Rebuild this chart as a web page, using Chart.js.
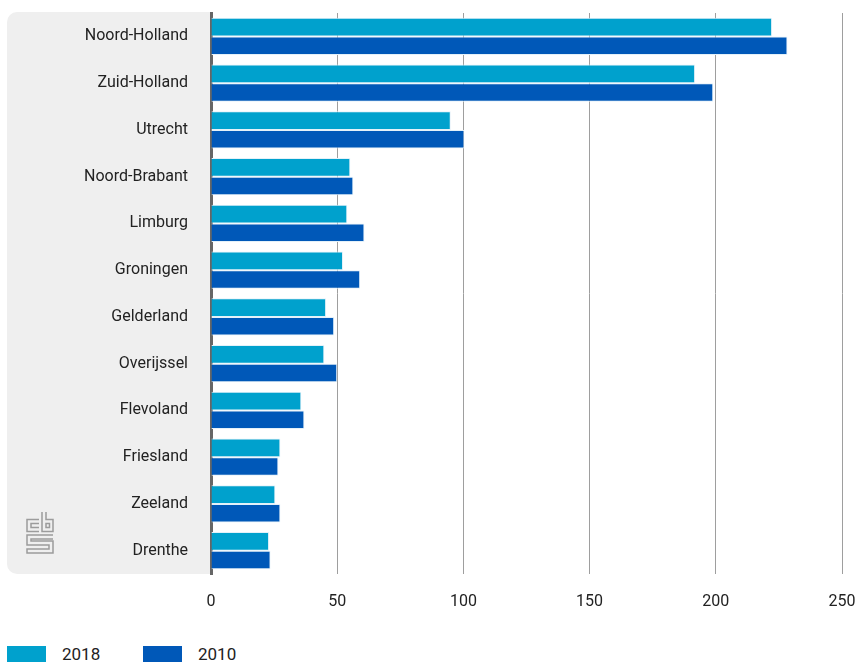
<!DOCTYPE html>
<html lang="nl">
<head>
  <meta charset="UTF-8" />
  <title>Provincies 2018 / 2010</title>
  <script src="https://cdn.jsdelivr.net/npm/chart.js@4.4.1/dist/chart.umd.min.js"></script>
  <style>
    body {
      margin: 0;
      background-color: #fff;
      font-family: 'Roboto', sans-serif;
      color: #222;
    }
    .chart-wrap {
      position: relative;
      width: 859px;
      height: 620px;
    }
    #legend {
      position: absolute;
      left: 7px;
      top: 644px;
      display: flex;
    }
    .legend-item {
      display: flex;
      align-items: center;
      width: 136px;
      font-size: 17px;
    }
    .legend-box {
      width: 39px;
      height: 16px;
      margin-right: 16px;
    }
  </style>
</head>
<body>
  <div class="chart-wrap">
    <canvas id="barChart"></canvas>
  </div>
  <div id="legend"></div>

  <script>
    const provinces = ['Noord-Holland', 'Zuid-Holland', 'Utrecht', 'Noord-Brabant', 'Limburg', 'Groningen',
      'Gelderland', 'Overijssel', 'Flevoland', 'Friesland', 'Zeeland', 'Drenthe'];
    const values2018 = [222.3, 191.8, 95.0, 55.2, 54.0, 52.3, 45.6, 44.9, 35.8, 27.5, 25.5, 23.0];
    const values2010 = [228.4, 199.0, 100.4, 56.4, 60.8, 59.1, 48.8, 50.0, 37.0, 26.7, 27.5, 23.6];
    const seriesLabels = ['2018', '2010'];
    const xTicks = [0, 50, 100, 150, 200, 250];

    const colors = ['#00a1cd', '#0058b8'];

    // grijs vlak achter de provincienamen + cbs-logo
    const panelPlugin = {
      id: 'panel',
      beforeDraw(chart) {
        const { ctx, chartArea } = chart;
        ctx.save();
        ctx.fillStyle = '#efefef';
        ctx.beginPath();
        ctx.roundRect(7, chartArea.top - 1, chartArea.left - 7, chartArea.bottom - chartArea.top + 1, [10, 0, 0, 10]);
        ctx.fill();

        // logo
        ctx.strokeStyle = '#9c9c9c';
        ctx.lineWidth = 1.5;
        ctx.beginPath();
        // c
        ctx.moveTo(39, 519.5); ctx.lineTo(27, 519.5); ctx.lineTo(27, 531.5); ctx.lineTo(39, 531.5);
        ctx.moveTo(39, 523.5); ctx.lineTo(31, 523.5); ctx.lineTo(31, 527.5); ctx.lineTo(39, 527.5);
        // b
        ctx.moveTo(42, 512); ctx.lineTo(42, 531.5); ctx.lineTo(53, 531.5); ctx.lineTo(53, 519.5); ctx.lineTo(46, 519.5); ctx.lineTo(46, 512);
        ctx.rect(46, 523.5, 3.5, 4);
        // s
        ctx.moveTo(53, 535); ctx.lineTo(27, 535); ctx.lineTo(27, 545); ctx.lineTo(49, 545); ctx.lineTo(49, 549);
        ctx.lineTo(27, 549); ctx.lineTo(27, 553); ctx.lineTo(53, 553); ctx.lineTo(53, 541); ctx.lineTo(31, 541);
        ctx.lineTo(31, 539); ctx.lineTo(53, 539);
        ctx.stroke();
        ctx.restore();
      }
    };

    const ctx = document.getElementById('barChart').getContext('2d');
    const barChart = new Chart(ctx, {
      type: 'bar',
      data: {
        labels: provinces,
        datasets: [
          {
            label: seriesLabels[0],
            data: values2018,
            backgroundColor: colors[0],
            borderColor: '#e4f1f9',
            borderWidth: 1
          },
          {
            label: seriesLabels[1],
            data: values2010,
            backgroundColor: colors[1],
            borderColor: '#e4f1f9',
            borderWidth: 1
          }
        ]
      },
      options: {
        indexAxis: 'y',
        responsive: true,
        maintainAspectRatio: false,
        animation: false,
        layout: { padding: { top: 13, right: 17, left: 0, bottom: 0 } },
        datasets: { bar: { categoryPercentage: 0.8, barPercentage: 1 } },
        scales: {
          x: {
            min: 0,
            max: 250,
            afterBuildTicks: s => { s.ticks = xTicks.map(v => ({ value: v })); },
            afterFit: s => { s.height = 46; s.paddingLeft = 0; s.paddingRight = 0; },
            grid: { color: '#9e9e9e', lineWidth: 1, drawTicks: false },
            border: { display: false },
            ticks: {
              padding: 18,
              color: '#222',
              font: { family: 'Roboto', size: 16 }
            }
          },
          y: {
            afterFit: s => { s.width = 211; s.paddingTop = 0; s.paddingBottom = 0; },
            grid: { display: false, drawTicks: false },
            border: { display: true, color: '#666', width: 3 },
            ticks: {
              padding: 23,
              color: '#222',
              font: { family: 'Roboto', size: 16 }
            }
          }
        },
        plugins: {
          legend: { display: false },
          tooltip: { enabled: false }
        }
      },
      plugins: [panelPlugin]
    });

    const legend = document.getElementById('legend');
    barChart.data.datasets.forEach(ds => {
      const item = document.createElement('div');
      item.className = 'legend-item';
      item.innerHTML = `<span class="legend-box" style="background:${ds.backgroundColor}"></span><span>${ds.label}</span>`;
      legend.appendChild(item);
    });
  </script>
</body>
</html>
